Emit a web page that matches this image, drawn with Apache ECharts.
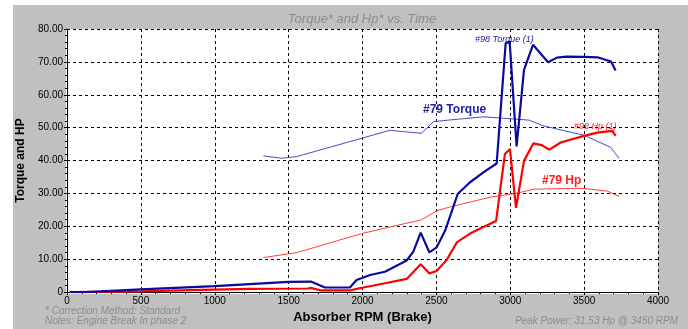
<!DOCTYPE html>
<html><head><meta charset="utf-8">
<script src="https://cdn.jsdelivr.net/npm/echarts@6/dist/echarts.min.js"></script>
<style>html,body{margin:0;padding:0;background:#fff;}#c{width:688px;height:329px;}</style>
</head><body><div id="c"></div>
<script>
const t98Rpm = [20, 130, 500, 1000, 1500, 1650, 1746, 1915, 1960, 2051, 2152, 2299, 2344, 2394, 2452, 2502, 2560, 2645, 2728, 2818, 2908, 2969, 2996, 3043, 3093, 3154, 3256, 3316, 3380, 3500, 3590, 3682, 3713];
const t98Val = [0, 0, 0.8, 1.8, 3.1, 3.2, 1.4, 1.4, 3.7, 5.2, 6.2, 9.6, 12.3, 18.1, 12.1, 13.6, 18.8, 29.9, 33.4, 36.4, 39.1, 75.7, 76.2, 44.3, 67.6, 75.2, 69.9, 71.3, 71.6, 71.5, 71.4, 70.1, 67.4];
const h98Rpm = [20, 500, 830, 1240, 1630, 1650, 1720, 1915, 1960, 2006, 2152, 2299, 2394, 2452, 2502, 2570, 2638, 2728, 2818, 2904, 2964, 2998, 3039, 3093, 3156, 3213, 3265, 3341, 3499, 3589, 3691, 3713];
const h98Val = [0, 0.2, 0.6, 1.0, 1.1, 1.3, 0.5, 0.5, 1.0, 1.4, 2.7, 4.0, 8.5, 5.7, 6.4, 9.8, 15.1, 17.8, 19.8, 21.6, 42.0, 43.5, 25.6, 39.9, 45.2, 44.7, 43.3, 45.5, 47.5, 48.5, 49.0, 47.5];
const t79Rpm = [1329, 1453, 1554, 2186, 2276, 2400, 2479, 2581, 2822, 3127, 3228, 3499, 3680, 3736];
const t79Val = [41.4, 40.7, 41.2, 49.2, 48.8, 48.3, 51.8, 52.3, 53.3, 52.3, 50.5, 47.7, 44.0, 40.7];
const h79Rpm = [1329, 1554, 1994, 2400, 2502, 2592, 2868, 3048, 3161, 3450, 3499, 3657, 3736];
const h79Val = [10.5, 12.0, 17.8, 22.0, 24.7, 25.9, 28.9, 30.1, 31.3, 31.53, 31.5, 30.7, 29.1];

const zip = (a, b) => a.map((x, i) => [x, b[i]]);
const F = '"Liberation Sans", Arial, sans-serif';
const chart = echarts.init(document.getElementById('c'));
chart.setOption({
  animation: false,
  backgroundColor: '#ffffff',
  graphic: [
    {type: 'rect', z: -10, shape: {x: 13, y: 5, width: 675, height: 324}, style: {fill: '#c0c0c0'}},
    {type: 'rect', z: -9, shape: {x: 66, y: 29, width: 592, height: 265}, style: {fill: '#ffffff'}},
    {type: 'text', left: 45, top: 306, style: {text: '* Correction Method: Standard', font: 'italic 10px ' + F, fill: '#8c8c8c'}},
    {type: 'text', left: 45, top: 316, style: {text: 'Notes: Engine Break In phase 2', font: 'italic 10px ' + F, fill: '#8c8c8c'}},
    {type: 'text', right: 10, top: 316, style: {text: 'Peak Power: 31.53 Hp @ 3450 RPM', font: 'italic 10px ' + F, fill: '#8c8c8c', align: 'right'}},
    {type: 'text', left: 475, top: 35, style: {text: '#98 Torque (1)', font: 'italic 9px ' + F, fill: '#1a1aa0'}},
    {type: 'text', left: 423, top: 104, style: {text: '#79 Torque', font: 'bold 12px ' + F, fill: '#2020a8'}},
    {type: 'text', left: 574, top: 122, style: {text: '#98 Hp (1)', font: 'italic 9px ' + F, fill: '#ff2020'}},
    {type: 'text', left: 542, top: 175, style: {text: '#79 Hp', font: 'bold 12px ' + F, fill: '#ff2020'}},
    {type: 'text', x: 362, y: 13, style: {text: 'Torque* and Hp* vs. Time', font: 'italic 13px ' + F, fill: '#8c8c8c', align: 'center', verticalAlign: 'top'}}
  ],
  grid: {left: 67, right: 30, top: 29, bottom: 35},
  xAxis: {
    type: 'value', min: 0, max: 4000, interval: 500,
    name: 'Absorber RPM (Brake)', nameLocation: 'middle', nameGap: 17,
    nameTextStyle: {fontFamily: F, fontSize: 13, fontWeight: 'bold', color: '#000'},
    axisLine: {show: true, lineStyle: {color: '#000', width: 1}},
    axisTick: {show: true, length: 3, lineStyle: {color: '#000'}},
    minorTick: {show: true, splitNumber: 5, length: 2, lineStyle: {color: '#000'}},
    axisLabel: {fontFamily: F, fontSize: 10, color: '#000', margin: 4, formatter: v => String(v)},
    splitLine: {show: true, lineStyle: {color: '#000', type: [3, 3], width: 1}}
  },
  yAxis: {
    type: 'value', min: 0, max: 80, interval: 10,
    name: 'Torque and HP', nameLocation: 'middle', nameGap: 40,
    nameTextStyle: {fontFamily: F, fontSize: 12, fontWeight: 'bold', color: '#000'},
    axisLine: {show: true, lineStyle: {color: '#000', width: 1}},
    axisTick: {show: true, length: 3, lineStyle: {color: '#000'}},
    minorTick: {show: true, splitNumber: 5, length: 2, lineStyle: {color: '#000'}},
    axisLabel: {fontFamily: F, fontSize: 10, color: '#000', margin: 4,
      formatter: v => v === 0 ? '0' : v.toFixed(2)},
    splitLine: {show: true, lineStyle: {color: '#000', type: [3, 3], width: 1}}
  },
  series: [
    {type: 'line', name: '#79 Torque', data: zip(t79Rpm, t79Val), showSymbol: false, lineStyle: {color: '#4a4ac8', width: 1}},
    {type: 'line', name: '#79 Hp', data: zip(h79Rpm, h79Val), showSymbol: false, lineStyle: {color: '#ff4040', width: 1}},
    {type: 'line', name: '#98 Hp (1)', data: zip(h98Rpm, h98Val), showSymbol: false, lineStyle: {color: '#ff0000', width: 2.2}},
    {type: 'line', name: '#98 Torque (1)', data: zip(t98Rpm, t98Val), showSymbol: false, lineStyle: {color: '#0a0aa0', width: 2.2}}
  ]
});
</script></body></html>
